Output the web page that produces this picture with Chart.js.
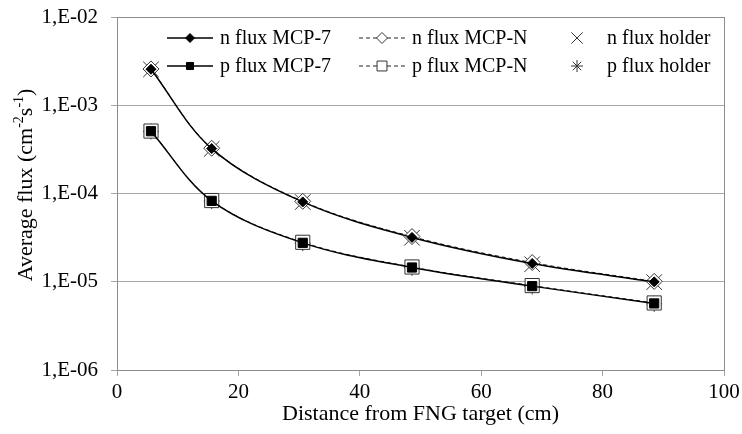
<!DOCTYPE html>
<html>
<head>
<meta charset="utf-8">
<title>Average flux vs distance</title>
<script src="https://cdn.jsdelivr.net/npm/chart.js@4.4.1/dist/chart.umd.min.js"></script>
<style>
  html, body { margin: 0; padding: 0; background: #fff; }
  #wrap { width: 742px; height: 434px; }
</style>
</head>
<body>
<div id="wrap"><canvas id="fluxChart" width="742" height="434"></canvas></div>
<script>
// ------------------ Data ------------------
const distance = [5.6, 15.6, 30.6, 48.6, 68.4, 88.5]; // cm from FNG target

const nFluxMCP7   = [2.56e-3, 3.23e-4, 8.03e-5, 3.18e-5, 1.61e-5, 9.97e-6];
const nFluxMCPN   = [2.58e-3, 3.26e-4, 8.15e-5, 3.25e-5, 1.65e-5, 1.01e-5];
const nFluxHolder = [2.55e-3, 3.20e-4, 8.00e-5, 3.15e-5, 1.58e-5, 9.90e-6];
const pFluxMCP7   = [5.08e-4, 8.25e-5, 2.76e-5, 1.45e-5, 8.92e-6, 5.68e-6];
const pFluxMCPN   = [5.10e-4, 8.32e-5, 2.80e-5, 1.47e-5, 9.05e-6, 5.75e-6];
const pFluxHolder = [5.05e-4, 8.20e-5, 2.74e-5, 1.44e-5, 8.85e-6, 5.62e-6];

const xTicks = [0, 20, 40, 60, 80, 100];
const yTicks = [1e-6, 1e-5, 1e-4, 1e-3, 1e-2];
const yTickLabels = ["1,E-06", "1,E-05", "1,E-04", "1,E-03", "1,E-02"];

// ------------------ Styles ------------------
const FONT_FAMILY = "'Liberation Serif', 'Times New Roman', serif";
const tickFont = { family: FONT_FAMILY, size: 21 };
const titleFont = { family: FONT_FAMILY, size: 22 };
const GRID = "#a6a6a6";

const toPoints = vals => distance.map((x, i) => ({ x, y: vals[i] }));

function series(label, vals, style) {
  return Object.assign({
    label,
    data: toPoints(vals),
    borderColor: "#000",
    borderWidth: 1.5,
    pointBorderColor: "#000",
    pointBorderWidth: 1,
    pointBackgroundColor: "#000",
    tension: 0.35,
    fill: false
  }, style);
}

const datasets = [
  series("n flux MCP-7", nFluxMCP7, { pointStyle: "rectRot", pointRadius: 5, legendRadius: 4.5 }),
  series("n flux MCP-N", nFluxMCPN, { borderDash: [4, 3], borderWidth: 1, borderColor: "#222",
    pointStyle: "rectRot", pointRadius: 8, pointBackgroundColor: "#fff", pointBorderColor: "#333", legendRadius: 5.5 }),
  series("n flux holder", nFluxHolder, { showLine: false, pointStyle: "crossRot", pointRadius: 11,
    pointBorderColor: "#333", legendRadius: 8 }),
  series("p flux MCP-7", pFluxMCP7, { pointStyle: "rect", pointRadius: 6.5, legendRadius: 5 }),
  series("p flux MCP-N", pFluxMCPN, { borderDash: [4, 3], borderWidth: 1, borderColor: "#222",
    pointStyle: "rect", pointRadius: 10, pointBackgroundColor: "#fff", pointBorderColor: "#333", legendRadius: 7 }),
  series("p flux holder", pFluxHolder, { showLine: false, pointStyle: "star", pointRadius: 8,
    pointBorderColor: "#333", legendRadius: 6 })
];

// ------------------ Plugins ------------------
// box round the plot area
const plotFrame = {
  id: "plotFrame",
  beforeDatasetsDraw(chart) {
    const { ctx, chartArea: a } = chart;
    ctx.save();
    ctx.strokeStyle = "#8c8c8c";
    ctx.lineWidth = 1;
    ctx.strokeRect(Math.round(a.left) + 0.5, Math.round(a.top) + 0.5,
      Math.round(a.right - a.left), Math.round(a.bottom - a.top));
    ctx.restore();
  }
};

// legend drawn inside the plot, 3 columns x 2 rows
const legendRows = [38, 66];
const legendCols = [
  { x0: 167, x1: 213, text: 220 },
  { x0: 359, x1: 405, text: 412 },
  { x0: 577, x1: 577, text: 607 }
];

const insideLegend = {
  id: "insideLegend",
  afterDatasetsDraw(chart) {
    const ctx = chart.ctx;
    ctx.save();
    chart.data.datasets.forEach((ds, i) => {
      const y = legendRows[Math.floor(i / 3)];
      const col = legendCols[i % 3];
      if (ds.showLine !== false) {
        ctx.beginPath();
        ctx.setLineDash(ds.borderDash || []);
        ctx.lineWidth = ds.borderWidth;
        ctx.strokeStyle = ds.borderColor;
        ctx.moveTo(col.x0, y);
        ctx.lineTo(col.x1, y);
        ctx.stroke();
      }
      ctx.setLineDash([]);
      ctx.fillStyle = ds.pointBackgroundColor;
      ctx.strokeStyle = ds.pointBorderColor;
      ctx.lineWidth = ds.pointBorderWidth;
      Chart.helpers.drawPoint(ctx, {
        pointStyle: ds.pointStyle, radius: ds.legendRadius, rotation: 0, borderWidth: ds.pointBorderWidth
      }, (col.x0 + col.x1) / 2, y);
      ctx.fillStyle = "#000";
      ctx.font = "20px " + FONT_FAMILY;
      ctx.textBaseline = "middle";
      ctx.textAlign = "left";
      ctx.fillText(ds.label, col.text, y + 1);
    });
    ctx.restore();
  }
};

// y axis title with superscript units
const yTitle = {
  id: "yTitle",
  afterDraw(chart) {
    const ctx = chart.ctx;
    const parts = [
      { t: "Average flux (cm", size: 22, dy: 0 },
      { t: "-2", size: 14, dy: -9 },
      { t: "s", size: 22, dy: 0 },
      { t: "-1", size: 14, dy: -9 },
      { t: ")", size: 22, dy: 0 }
    ];
    ctx.save();
    ctx.translate(25, 185);
    ctx.rotate(-Math.PI / 2);
    ctx.fillStyle = "#000";
    ctx.textBaseline = "alphabetic";
    ctx.textAlign = "left";
    let total = 0;
    parts.forEach(p => { ctx.font = p.size + "px " + FONT_FAMILY; p.w = ctx.measureText(p.t).width; total += p.w; });
    let x = -total / 2;
    parts.forEach(p => {
      ctx.font = p.size + "px " + FONT_FAMILY;
      ctx.fillText(p.t, x, 7 + p.dy);
      x += p.w;
    });
    ctx.restore();
  }
};

// ------------------ Chart ------------------
new Chart(document.getElementById("fluxChart"), {
  type: "line",
  data: { datasets },
  plugins: [plotFrame, insideLegend, yTitle],
  options: {
    responsive: false,
    animation: false,
    layout: { padding: { left: 0, right: 18, top: 17, bottom: 0 } },
    plugins: {
      legend: { display: false },
      tooltip: { enabled: false }
    },
    scales: {
      x: {
        type: "linear",
        min: 0,
        max: 100,
        afterBuildTicks: s => { s.ticks = xTicks.map(v => ({ value: v })); },
        afterFit: s => { s.height = 64; s.paddingLeft = 0; s.paddingRight = 0; },
        grid: { drawOnChartArea: false, drawTicks: true, tickLength: 6, color: GRID },
        border: { color: GRID },
        ticks: { color: "#000", font: tickFont, padding: 4, maxRotation: 0, autoSkip: false },
        title: {
          display: true, text: "Distance from FNG target (cm)", color: "#000", font: titleFont,
          padding: { top: 0, bottom: 7 }
        }
      },
      y: {
        type: "logarithmic",
        min: 1e-6,
        max: 1e-2,
        afterBuildTicks: s => { s.ticks = yTicks.map(v => ({ value: v })); },
        afterFit: s => { s.width = 117; s.paddingTop = 0; s.paddingBottom = 0; },
        grid: { color: GRID, tickLength: 6 },
        border: { color: GRID },
        ticks: {
          color: "#000", font: tickFont, padding: 13, autoSkip: false,
          callback: (v, i) => yTickLabels[i]
        }
      }
    }
  }
});
</script>
</body>
</html>
